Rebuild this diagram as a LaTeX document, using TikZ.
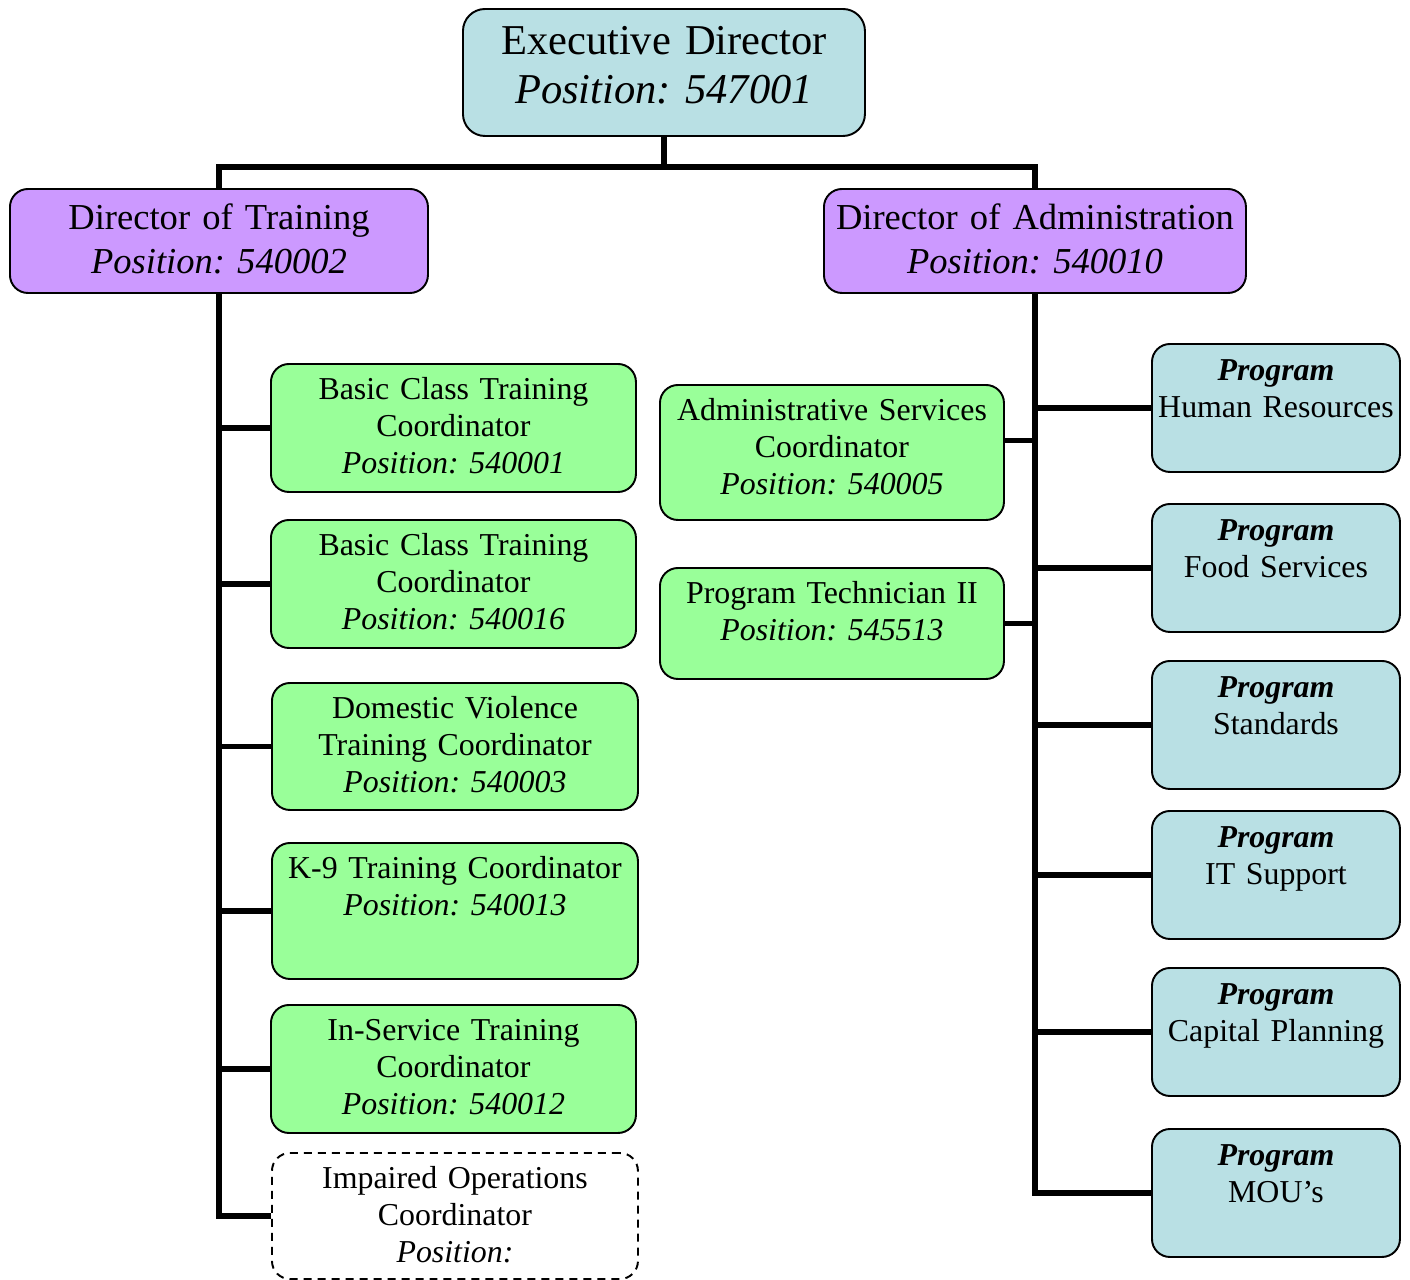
\documentclass[tikz,border=0pt]{standalone}
\usepackage{fontspec}
\setmainfont{Liberation Serif}
\usepackage{tikz}
\usetikzlibrary{calc}
\frenchspacing
\definecolor{execblue}{HTML}{B9E0E4}
\definecolor{dirpurple}{HTML}{CC99FF}
\definecolor{coordgreen}{HTML}{99FF99}
\newcommand{\execfont}{\fontsize{12.1pt}{13.9pt}\selectfont}
\newcommand{\dirfont}{\fontsize{10.4pt}{12.5pt}\selectfont}
\newcommand{\unitfont}{\fontsize{9.07pt}{10.44pt}\selectfont}
\tikzset{
  box/.style={draw, line width=0.55pt, rounded corners=1.8mm, align=center,
    inner sep=0pt, anchor=north west, font=\unitfont, text height=3.6mm},
  boxsize/.style 2 args={text width=#1, text depth=#2},
  execbox/.style={box, fill=execblue, rounded corners=2.2mm, font=\execfont, text height=4.6mm},
  dirbox/.style={box, fill=dirpurple, font=\dirfont, text height=4.1mm},
  coordbox/.style={box, fill=coordgreen},
  openbox/.style={box, fill=white, dash pattern=on 0.8mm off 0.6mm},
  progbox/.style={box, fill=execblue, text height=3.7mm, boxsize={24.8mm}{9.1mm}},
  conn/.style={line width=1.7pt}
}

\begin{document}
\begin{tikzpicture}[x=0.1mm, y=-0.1mm]
      \useasboundingbox (0,0) rectangle (1410,1279);
      % top level
      \node[execbox, boxsize={40.2mm}{8.1mm}] (exec) at (462,8)
        {Executive Director\\\textit{Position: 547001}};
      \node[dirbox, boxsize={41.8mm}{6.3mm}] (dtrain) at (9,188)
        {Director of Training\\\textit{Position: 540002}};
      \node[dirbox, boxsize={42.2mm}{6.3mm}] (dadmin) at (823,188)
        {Director of Administration\\\textit{Position: 540010}};
      % training coordinators
      \node[coordbox, boxsize={36.5mm}{9.2mm}] (bct1) at (270,363)
        {Basic Class Training\\Coordinator\\\textit{Position: 540001}};
      \node[coordbox, boxsize={36.5mm}{9.2mm}] (bct2) at (270,519)
        {Basic Class Training\\Coordinator\\\textit{Position: 540016}};
      \node[coordbox, boxsize={36.6mm}{9.1mm}] (dvtc) at (271,682)
        {Domestic Violence\\Training Coordinator\\\textit{Position: 540003}};
      \node[coordbox, boxsize={36.6mm}{10.0mm}] (k9tc) at (271,842)
        {K-9 Training Coordinator\\\textit{Position: 540013}};
      \node[coordbox, boxsize={36.5mm}{9.2mm}] (istc) at (270,1004)
        {In-Service Training\\Coordinator\\\textit{Position: 540012}};
      \node[openbox, boxsize={36.6mm}{9.0mm}] (iopc) at (271,1152)
        {Impaired Operations\\Coordinator\\\textit{Position:}};
      % administration staff
      \node[coordbox, boxsize={34.4mm}{9.9mm}] (asc) at (659,384)
        {Administrative Services\\Coordinator\\\textit{Position: 540005}};
      \node[coordbox, boxsize={34.4mm}{7.5mm}] (pt2) at (659,567)
        {Program Technician II\\\textit{Position: 545513}};
      % programs
      \node[progbox] (hr) at (1151,343) {\textbf{\textit{Program}}\\Human Resources};
      \node[progbox] (food) at (1151,503) {\textbf{\textit{Program}}\\Food Services};
      \node[progbox] (stds) at (1151,660) {\textbf{\textit{Program}}\\Standards};
      \node[progbox] (itsup) at (1151,810) {\textbf{\textit{Program}}\\IT Support};
      \node[progbox] (cplan) at (1151,967) {\textbf{\textit{Program}}\\Capital Planning};
      \node[progbox] (mous) at (1151,1128) {\textbf{\textit{Program}}\\MOU’s};
      % connectors
      \coordinate (split) at ([yshift=-3mm]exec.south);
      \draw[conn] (exec.south) -- (split);
      \draw[conn] (dtrain.north) |- (split) -| (dadmin.north);
      \foreach \n in {bct1,bct2,dvtc,k9tc,istc,iopc}
        \draw[conn] (dtrain.south) |- (\n.west);
      \foreach \n in {hr,food,stds,itsup,cplan,mous}
        \draw[conn] (dadmin.south) |- (\n.west);
      \draw[conn] ([yshift=1.2mm]asc.east) -| (dadmin.south);
      \draw[conn] (pt2.east) -| (dadmin.south);
\end{tikzpicture}
\end{document}
